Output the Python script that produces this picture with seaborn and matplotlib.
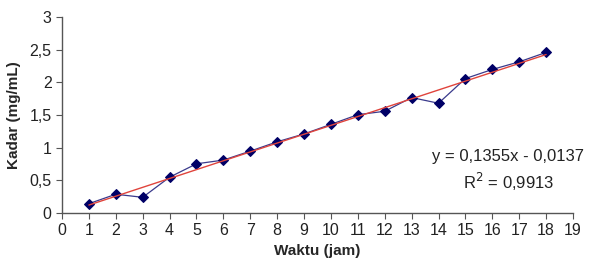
import numpy as np
import pandas as pd
import seaborn as sns
import matplotlib.pyplot as plt

waktu = [1, 2, 3, 4, 5, 6, 7, 8, 9, 10, 11, 12, 13, 14, 15, 16, 17, 18]
kadar = [0.143, 0.287, 0.24, 0.548, 0.753, 0.81, 0.947, 1.09, 1.21,
         1.357, 1.505, 1.557, 1.767, 1.68, 2.058, 2.197, 2.314, 2.458]
slope = 0.1355
intercept = -0.0137

df = pd.DataFrame({'waktu': waktu, 'kadar': kadar})
df['trend'] = slope * df['waktu'] + intercept

sns.set_style('ticks')
plt.rcParams['font.family'] = ['Liberation Sans', 'DejaVu Sans']

fig = plt.figure(figsize=(5.98, 2.73), dpi=100)
ax = fig.add_axes([62 / 598, 1 - 213 / 273, (573 - 62) / 598, (213 - 17) / 273])

sns.lineplot(data=df, x='waktu', y='kadar', ax=ax, color='#3a3a8c', lw=0.9,
             marker='D', markersize=5.5, markerfacecolor='#000066',
             markeredgecolor='#000066')
sns.lineplot(data=df, x='waktu', y='trend', ax=ax, color='#e0443c', lw=1.0)

ax.set_xlim(0, 19)
ax.set_ylim(0, 3)
ax.set_xticks(range(0, 20))
ax.set_yticks(np.arange(0, 3.01, 0.5))
ax.set_yticklabels(['0', '0,5', '1', '1,5', '2', '2,5', '3'])
ax.tick_params(labelsize=11.5, length=4, color='#555555', labelcolor='#222222')
for s in ['top', 'right']:
    ax.spines[s].set_visible(False)
for s in ['left', 'bottom']:
    ax.spines[s].set_color('#555555')
    ax.spines[s].set_linewidth(1.0)

ax.set_xlabel('Waktu (jam)', fontsize=11, fontweight='bold', labelpad=4)
ax.set_ylabel('Kadar (mg/mL)', fontsize=11, fontweight='bold', labelpad=6)

ax.text(16.6, 0.86, 'y = 0,1355x - 0,0137', fontsize=12, ha='center', va='center', color='#222222')
ax.text(16.6, 0.48, 'R$^2$ = 0,9913', fontsize=12, ha='center', va='center', color='#222222')

fig.savefig('out.png', dpi=100)
